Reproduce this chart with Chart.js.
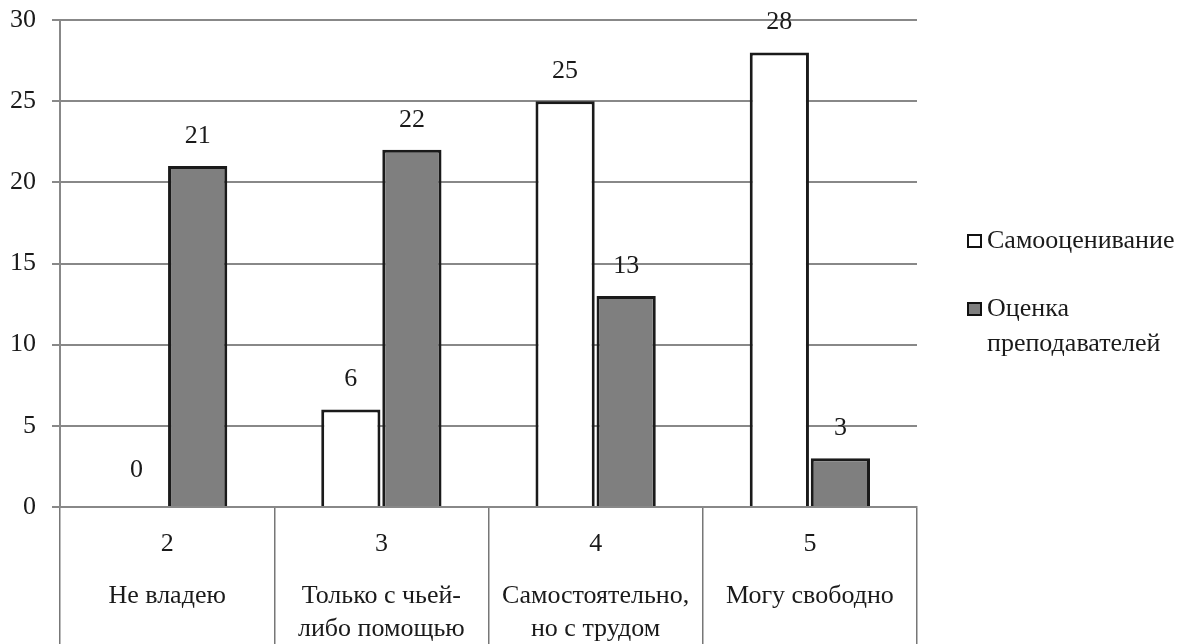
<!DOCTYPE html>
<html>
<head>
<meta charset="utf-8">
<script src="https://cdn.jsdelivr.net/npm/chart.js@4.4.1/dist/chart.umd.min.js"></script>
<style>
  html, body { margin: 0; padding: 0; background: #fff; }
  #wrap { width: 1187px; height: 644px; position: relative; }
</style>
</head>
<body>
<div id="wrap"><canvas id="chart"></canvas></div>
<script>
// grades and their descriptions (x axis rows)
const grades = ['2', '3', '4', '5'];
const gradeNames = [['Не владею'], ['Только с чьей-', 'либо помощью'], ['Самостоятельно,', 'но с трудом'], ['Могу свободно']];
const selfScores = [0, 6, 25, 28];
const teacherScores = [21, 22, 13, 3];
const yTicks = [0, 5, 10, 15, 20, 25, 30];
const legendLabels = [['Самооценивание'], ['Оценка', 'преподавателей']];

const SERIF = '"Liberation Serif", "DejaVu Serif", serif';
const INK = '#1a1a1a';

// values above bars + category text rows + legend
const extras = {
  id: 'extras',
  afterDatasetsDraw(chart) {
    const ctx = chart.ctx;
    ctx.save();
    ctx.font = '26px ' + SERIF;
    ctx.fillStyle = INK;
    ctx.textAlign = 'center';
    ctx.textBaseline = 'middle';
    chart.data.datasets.forEach((ds, di) => {
      chart.getDatasetMeta(di).data.forEach((bar, i) => {
        const off = ds.data[i] === 0 ? 37 : 30;
        ctx.fillText(String(ds.data[i]), bar.x, bar.y - off);
      });
    });
    ctx.restore();
  },
  afterDraw(chart) {
    const ctx = chart.ctx;
    const x = chart.scales.x;
    const bottom = chart.chartArea.bottom;
    ctx.save();
    ctx.font = '26px ' + SERIF;
    ctx.fillStyle = INK;
    ctx.textAlign = 'center';
    ctx.textBaseline = 'middle';
    grades.forEach((g, i) => {
      const cx = x.getPixelForValue(i);
      ctx.fillText(g, cx, bottom + 37);
      gradeNames[i].forEach((line, j) => {
        ctx.fillText(line, cx, bottom + 89 + j * 33);
      });
    });

    // legend
    const lx = 968;
    const rows = [241, 309];
    ctx.textAlign = 'left';
    chart.data.datasets.forEach((ds, di) => {
      const y = rows[di];
      ctx.fillStyle = ds.backgroundColor;
      ctx.fillRect(lx, y - 6, 13, 12);
      ctx.strokeStyle = '#111';
      ctx.lineWidth = 2;
      ctx.strokeRect(lx, y - 6, 13, 12);
      ctx.fillStyle = INK;
      legendLabels[di].forEach((line, j) => {
        ctx.fillText(line, lx + 19, y + j * 35);
      });
    });
    ctx.restore();
  }
};

new Chart(document.getElementById('chart'), {
  type: 'bar',
  data: {
    labels: grades,
    datasets: [
      {
        label: 'Самооценивание',
        data: selfScores,
        backgroundColor: '#ffffff',
        borderColor: '#1a1a1a',
        borderWidth: 3,
        categoryPercentage: 0.57,
        barPercentage: 0.97
      },
      {
        label: 'Оценка преподавателей',
        data: teacherScores,
        backgroundColor: '#7f7f7f',
        borderColor: '#1a1a1a',
        borderWidth: 3,
        categoryPercentage: 0.57,
        barPercentage: 0.97
      }
    ]
  },
  options: {
    responsive: true,
    maintainAspectRatio: false,
    animation: false,
    layout: { padding: { top: 20, right: 270, left: 0, bottom: 0 } },
    plugins: {
      legend: { display: false },
      tooltip: { enabled: false }
    },
    scales: {
      x: {
        offset: true,
        grid: { drawOnChartArea: false, drawTicks: true, tickLength: 137, offset: true, color: '#777', lineWidth: 1.5 },
        border: { display: true, color: '#888', width: 2 },
        ticks: { display: false }
      },
      y: {
        min: 0,
        max: 30,
        afterBuildTicks: (s) => { s.ticks = yTicks.map(v => ({ value: v })); },
        afterFit: (s) => { s.width = 60; s.paddingTop = 0; s.paddingBottom = 0; },
        grid: { color: '#888', lineWidth: 2, tickLength: 8 },
        border: { display: true, color: '#888', width: 2 },
        ticks: { padding: 16, color: INK, font: { family: SERIF, size: 26 } }
      }
    }
  },
  plugins: [extras]
});
</script>
</body>
</html>
